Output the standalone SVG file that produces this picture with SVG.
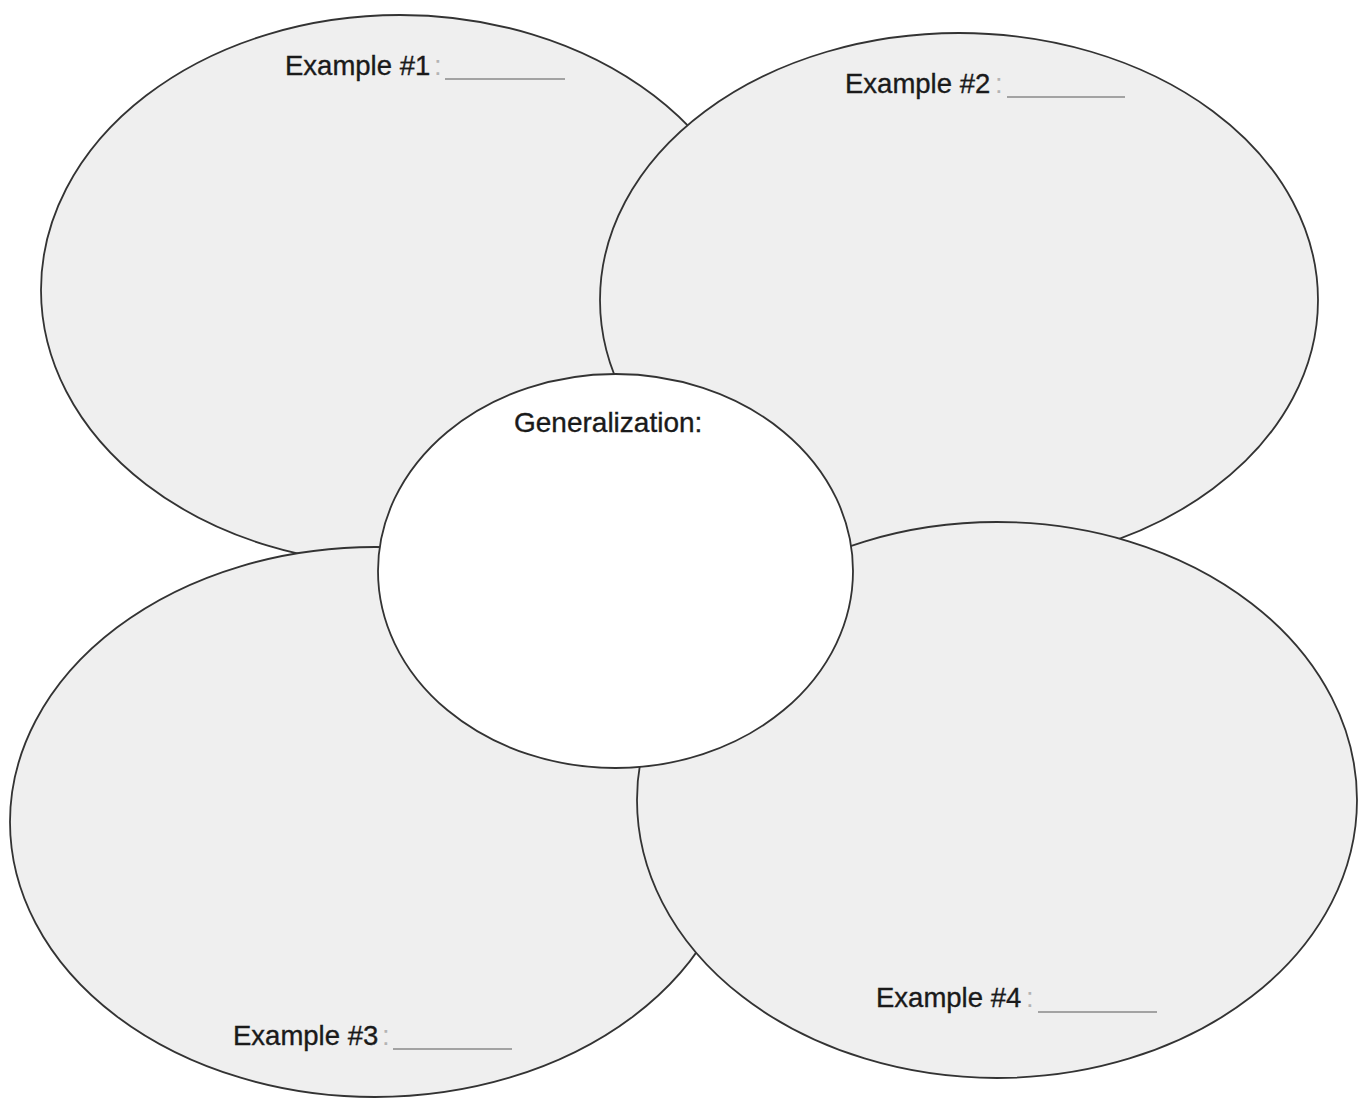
<svg xmlns="http://www.w3.org/2000/svg" width="1364" height="1098" viewBox="0 0 1364 1098">
  <style>
    .petal { fill: #efefef; stroke: #333333; stroke-width: 1.8; }
    .hub { fill: #ffffff; stroke: #333333; stroke-width: 1.8; }
    .label { font-family: "Liberation Sans", Arial, sans-serif; font-size: 27.5px; fill: #1a1a1a; stroke: #1a1a1a; stroke-width: 0.35; }
    .colon { font-family: "Liberation Sans", Arial, sans-serif; font-size: 27.5px; fill: #b4b4b4; }
    .blank { stroke: #8a8a8a; stroke-width: 1.6; }
  </style>
  <rect width="1364" height="1098" fill="#ffffff"/>

  <!-- Petals, back to front -->
  <g id="example1">
    <ellipse class="petal" cx="400" cy="290" rx="359" ry="275"/>
    <text class="label" x="285" y="75">Example #1</text>
    <text class="colon" x="434" y="75">:</text>
    <line class="blank" x1="445" y1="79" x2="565" y2="79"/>
  </g>

  <g id="example2">
    <ellipse class="petal" cx="959" cy="300" rx="359" ry="267"/>
    <text class="label" x="845" y="93">Example #2</text>
    <text class="colon" x="995" y="93">:</text>
    <line class="blank" x1="1007" y1="97" x2="1125" y2="97"/>
  </g>

  <g id="example3">
    <ellipse class="petal" cx="375" cy="822" rx="365" ry="275"/>
    <text class="label" x="233" y="1045">Example #3</text>
    <text class="colon" x="382" y="1045">:</text>
    <line class="blank" x1="393" y1="1049" x2="512" y2="1049"/>
  </g>

  <g id="example4">
    <ellipse class="petal" cx="997" cy="800" rx="360" ry="278"/>
    <text class="label" x="876" y="1007">Example #4</text>
    <text class="colon" x="1026" y="1007">:</text>
    <line class="blank" x1="1038" y1="1012" x2="1157" y2="1012"/>
  </g>

  <!-- Centre -->
  <g id="generalization">
    <ellipse class="hub" cx="615.5" cy="571" rx="237.5" ry="197"/>
    <text class="label" x="514" y="432" style="font-size:28px">Generalization:</text>
  </g>
</svg>
